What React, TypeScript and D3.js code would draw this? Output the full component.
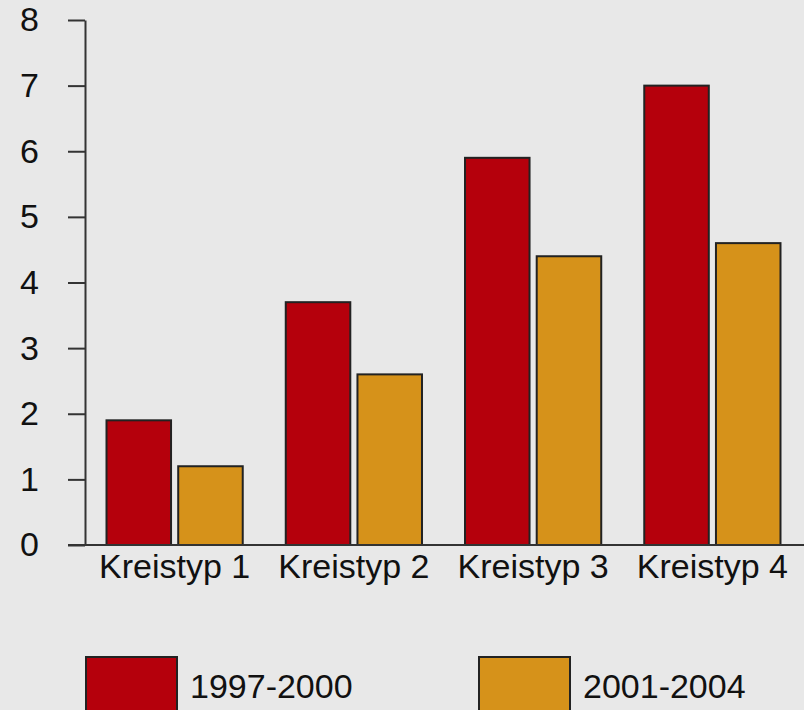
import { useRef, useEffect } from "react";
import * as d3 from "d3";

const categories = ["Kreistyp 1", "Kreistyp 2", "Kreistyp 3", "Kreistyp 4"];
const seriesNames = ["1997-2000", "2001-2004"];
const values1997 = [1.9, 3.7, 5.9, 7.0];
const values2001 = [1.2, 2.6, 4.4, 4.6];
const yTicks = [0, 1, 2, 3, 4, 5, 6, 7, 8];
const colors = ["#b5000c", "#d6921a"];

const width = 804;
const height = 710;
const font = "Liberation Sans, Arial, Helvetica, sans-serif";

export default function App() {
  const svgRef = useRef<SVGSVGElement>(null);

  useEffect(() => {
    if (!svgRef.current) return;
    const svg = d3.select(svgRef.current);
    svg.selectAll("*").remove();

    svg
      .append("rect")
      .attr("width", width)
      .attr("height", height)
      .attr("fill", "#e8e8e8");

    const axisX = 85;
    const y = d3.scaleLinear().domain([0, 8]).range([545, 20]);

    const x0 = d3
      .scaleBand<string>()
      .domain(categories)
      .range([axisX, 802])
      .paddingInner(0.24)
      .paddingOuter(0.12);

    const x1 = d3
      .scaleBand<string>()
      .domain(seriesNames)
      .range([0, x0.bandwidth()])
      .paddingInner(0.1);

    const series = [values1997, values2001];

    // Bars
    categories.forEach((cat, i) => {
      seriesNames.forEach((s, j) => {
        const v = series[j][i];
        svg
          .append("rect")
          .attr("x", (x0(cat) ?? 0) + (x1(s) ?? 0))
          .attr("y", y(v))
          .attr("width", x1.bandwidth())
          .attr("height", y(0) - y(v))
          .attr("fill", colors[j])
          .attr("stroke", "#222")
          .attr("stroke-width", 2);
      });
    });

    // Y axis
    const yAxis = svg
      .append("g")
      .attr("transform", `translate(${axisX},0)`)
      .call(d3.axisLeft(y).tickValues(yTicks).tickSize(17).tickPadding(29).tickSizeOuter(0))
      .call((g) => g.select(".domain").attr("stroke", "#333").attr("stroke-width", 2))
      .call((g) => g.selectAll(".tick line").attr("stroke", "#333").attr("stroke-width", 2));
    yAxis
      .selectAll("text")
      .attr("fill", "#111")
      .attr("font-family", font)
      .attr("font-size", "34px");

    // X baseline
    svg
      .append("line")
      .attr("x1", 68)
      .attr("x2", width)
      .attr("y1", y(0))
      .attr("y2", y(0))
      .attr("stroke", "#333")
      .attr("stroke-width", 2);

    // Category labels
    svg
      .append("g")
      .selectAll("text")
      .data(categories)
      .join("text")
      .attr("x", (d) => (x0(d) ?? 0) + x0.bandwidth() / 2)
      .attr("y", 578)
      .attr("text-anchor", "middle")
      .attr("fill", "#111")
      .attr("font-family", font)
      .attr("font-size", "34px")
      .text((d) => d);

    // Legend
    const legendX = [86, 479];
    seriesNames.forEach((s, j) => {
      svg
        .append("rect")
        .attr("x", legendX[j])
        .attr("y", 657)
        .attr("width", 91)
        .attr("height", 60)
        .attr("fill", colors[j])
        .attr("stroke", "#222")
        .attr("stroke-width", 2);
      svg
        .append("text")
        .attr("x", legendX[j] + 104)
        .attr("y", 698)
        .attr("fill", "#111")
        .attr("font-family", font)
        .attr("font-size", "34px")
        .text(s);
    });
  }, []);

  return (
    <svg
      ref={svgRef}
      width={width}
      height={height}
      style={{ position: "absolute", left: 0, top: 0 }}
      role="img"
      aria-label="Bar chart Kreistyp 1-4, 1997-2000 vs 2001-2004"
    />
  );
}
